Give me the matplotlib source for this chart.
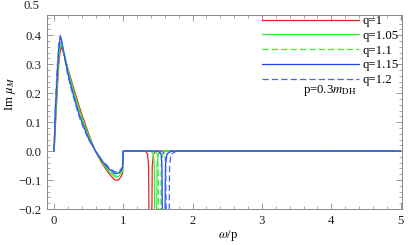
import numpy as np
import matplotlib.pyplot as plt
from matplotlib.ticker import MultipleLocator
import matplotlib.transforms as mtransforms

plt.rcParams['font.family'] = ['Liberation Serif', 'DejaVu Serif']
plt.rcParams['mathtext.fontset'] = 'stix'

labels = ['q=1', 'q=1.05', 'q=1.1', 'q=1.15', 'q=1.2']
colors = ['#ee2222', '#33ee33', '#33ee33', '#2244ee', '#4466ff']
styles = ['-', '-', '--', '-', '--']

# main lobe, 0 < w/p < 1
w_low = [0, 0.01, 0.02, 0.035, 0.05, 0.07, 0.09, 0.105, 0.15, 0.2, 0.25, 0.3,
         0.37, 0.43, 0.5, 0.6, 0.7, 0.8, 0.88, 0.93, 0.97, 0.99, 1.0]
im_low = [
    [0, 0.03, 0.08, 0.15, 0.22, 0.30, 0.345, 0.362, 0.33, 0.285, 0.245, 0.205,
     0.15, 0.108, 0.06, -0.002, -0.045, -0.08, -0.1, -0.1, -0.088, -0.076, 0],
    [0, 0.04, 0.1, 0.17, 0.24, 0.32, 0.365, 0.372, 0.335, 0.283, 0.238, 0.195,
     0.14, 0.098, 0.053, -0.001, -0.041, -0.073, -0.089, -0.088, -0.077, -0.067, 0],
    [0, 0.05, 0.12, 0.19, 0.26, 0.34, 0.378, 0.38, 0.335, 0.278, 0.232, 0.188,
     0.132, 0.092, 0.048, 0.0, -0.038, -0.068, -0.083, -0.082, -0.07, -0.062, 0],
    [0, 0.06, 0.14, 0.21, 0.28, 0.355, 0.392, 0.388, 0.33, 0.27, 0.222, 0.178,
     0.122, 0.084, 0.043, 0.0, -0.036, -0.063, -0.077, -0.076, -0.066, -0.058, 0],
    [0, 0.07, 0.15, 0.23, 0.30, 0.37, 0.40, 0.392, 0.325, 0.262, 0.214, 0.17,
     0.115, 0.078, 0.039, 0.001, -0.033, -0.058, -0.072, -0.071, -0.061, -0.054, 0],
]

# narrow negative spikes above w/p = 1
w_high = [
    [1.0, 1.32, 1.35, 1.365, 1.373, 1.41, 1.418, 1.435, 1.47, 5.0],
    [1.0, 1.40, 1.435, 1.448, 1.455, 1.48, 1.487, 1.505, 1.55, 5.0],
    [1.0, 1.45, 1.49, 1.503, 1.51, 1.54, 1.548, 1.57, 1.62, 5.0],
    [1.0, 1.50, 1.545, 1.558, 1.565, 1.60, 1.608, 1.63, 1.69, 5.0],
    [1.0, 1.55, 1.60, 1.613, 1.62, 1.66, 1.668, 1.69, 1.77, 5.0],
]
im_high = [0, 0, -0.01, -0.05, -0.3, -0.3, -0.05, -0.01, 0, 0]

fs = 9.2

fig = plt.figure(figsize=(4.09, 2.45), dpi=100)
ax = fig.add_axes([47 / 409, 1 - 209 / 245, 355 / 409, 194 / 245])

for i in range(len(labels)):
    x = np.concatenate([w_low, w_high[i]])
    y = np.concatenate([im_low[i], im_high])
    ax.plot(x, y, color=colors[i], ls=styles[i], lw=0.9, label=labels[i],
            dashes=(5, 2.5) if styles[i] == '--' else (None, None))

ax.set_xlim(-0.1, 5.02)
ax.set_ylim(-0.2, 0.47)
ax.set_xticks([0, 1, 2, 3, 4, 5])
ax.set_yticks([-0.2, -0.1, 0.0, 0.1, 0.2, 0.3, 0.4])
ax.set_yticklabels(['\u22120.2', '\u22120.1', '0.0', '0.1', '0.2', '0.3', '0.4'])
ax.xaxis.set_minor_locator(MultipleLocator(0.2))
ax.yaxis.set_minor_locator(MultipleLocator(0.02))
ax.tick_params(which='both', direction='in', top=True, right=True,
               labelsize=fs, color='#888888', labelcolor='#222222')
ax.tick_params(which='major', length=4, width=0.6, pad=4)
ax.tick_params(which='minor', length=2, width=0.5)
for s in ax.spines.values():
    s.set_color('#888888')
    s.set_linewidth(0.7)

# the 0.5 label sits above the frame in the original
trans = mtransforms.blended_transform_factory(ax.transAxes, ax.transData)
ax.text(-0.0225, 0.5, '0.5', transform=trans, ha='right', va='center',
        fontsize=fs, color='#222222', clip_on=False)

ax.set_xlabel(r'$\omega$/p', fontsize=fs)
ax.xaxis.set_label_coords(0.51, -0.1)
ax.set_ylabel(r'Im $\mu_M$', fontsize=fs)
ax.yaxis.set_label_coords(-0.082, 0.59)

ax.legend(loc='upper left', bbox_to_anchor=(262 / 409, 1 - 15 / 245),
          bbox_transform=fig.transFigure, frameon=False, fontsize=fs,
          handlelength=7.6, handletextpad=0.3, borderpad=0, borderaxespad=0,
          labelspacing=0.22)
ax.text(3.98, 0.208, r'p=0.3$m_{\rm DH}$', fontsize=fs, ha='center', va='center')

fig.savefig('out.png', dpi=100)
